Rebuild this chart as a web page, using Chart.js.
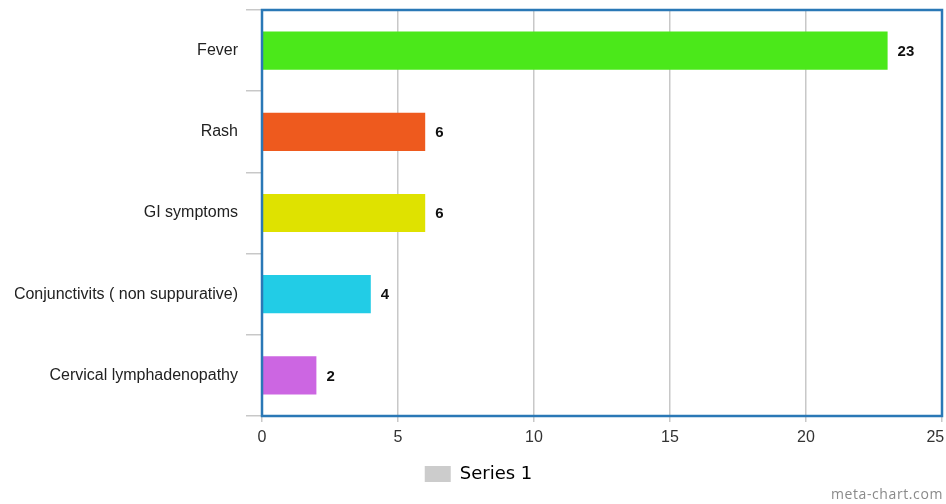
<!DOCTYPE html>
<html>
<head>
<meta charset="utf-8">
<script src="https://cdn.jsdelivr.net/npm/chart.js@4/dist/chart.umd.min.js"></script>
<style>
  html, body { margin: 0; padding: 0; background: #fff; }
  #wrap { position: relative; width: 946px; height: 504px; }
  #credit {
    position: absolute; right: 3px; bottom: 1px;
    font: 14px "Open Sans", "DejaVu Sans", sans-serif;
    letter-spacing: 0.6px; color: #8a8a8a;
  }
</style>
</head>
<body>
<div id="wrap">
  <canvas id="chart" width="946" height="504"></canvas>
  <div id="credit">meta-chart.com</div>
</div>
<script>
const categories = [
  "Fever",
  "Rash",
  "GI symptoms",
  "Conjunctivits ( non suppurative)",
  "Cervical lymphadenopathy"
];
const seriesName = "Series 1";
const values = [23, 6, 6, 4, 2];
const barColors = ["#4be81a", "#ee5a1e", "#dfe200", "#22cce6", "#cc66e2"];
const xTicks = [0, 5, 10, 15, 20, 25];

// value text to the right of each bar
const valueLabels = {
  id: "valueLabels",
  afterDatasetsDraw(chart) {
    const ctx = chart.ctx;
    const meta = chart.getDatasetMeta(0);
    ctx.save();
    ctx.font = "bold 15px 'Liberation Sans', Arial, sans-serif";
    ctx.fillStyle = "#111";
    ctx.textAlign = "left";
    ctx.textBaseline = "middle";
    meta.data.forEach((bar, i) => {
      ctx.fillText(String(values[i]), bar.x + 10, bar.y + 1);
    });
    ctx.restore();
  }
};

// blue frame around the plotting area
const plotFrame = {
  id: "plotFrame",
  afterDraw(chart) {
    const a = chart.chartArea;
    const ctx = chart.ctx;
    ctx.save();
    ctx.strokeStyle = "#2a78b6";
    ctx.lineWidth = 2.5;
    ctx.strokeRect(a.left, a.top, a.right - a.left, a.bottom - a.top);
    ctx.restore();
  }
};

const lastTick = xTicks[xTicks.length - 1];

new Chart(document.getElementById("chart"), {
  type: "bar",
  data: {
    labels: categories,
    datasets: [{
      label: seriesName,
      data: values,
      backgroundColor: barColors,
      borderWidth: 0,
      barPercentage: 0.47,
      categoryPercentage: 1.0
    }]
  },
  options: {
    indexAxis: "y",
    responsive: false,
    animation: false,
    layout: { padding: { left: 15, top: 10, right: 4, bottom: 11 } },
    scales: {
      x: {
        min: 0,
        max: lastTick,
        afterBuildTicks(axis) { axis.ticks = xTicks.map(v => ({ value: v })); },
        grid: { color: "#c8c8c8", lineWidth: 1.5, tickLength: 6, drawTicks: true },
        border: { display: false },
        ticks: {
          color: "#333",
          font: { family: "'Liberation Sans', Arial, sans-serif", size: 16 },
          padding: 6,
          maxRotation: 0,
          // keep the last label inside the canvas edge
          callback: (v) => v === lastTick ? v + "\u00a0\u00a0\u00a0" : String(v)
        },
        afterFit(axis) { axis.height = 41; axis.paddingRight = 0; axis.paddingLeft = 0; }
      },
      y: {
        grid: { color: "#c8c8c8", lineWidth: 1.5, drawOnChartArea: false, tickLength: 16, offset: true },
        border: { display: false },
        ticks: {
          color: "#222",
          font: { family: "'Liberation Sans', Arial, sans-serif", size: 16 },
          padding: 8
        },
        afterFit(axis) { axis.width = 247; axis.paddingTop = 0; axis.paddingBottom = 0; }
      }
    },
    plugins: {
      legend: {
        position: "bottom",
        labels: {
          boxWidth: 26,
          boxHeight: 16,
          padding: 8,
          color: "#555",
          font: { family: "'DejaVu Sans', sans-serif", size: 18 },
          generateLabels() {
            return [{ text: seriesName, fillStyle: "#cccccc", strokeStyle: "#cccccc", lineWidth: 0, datasetIndex: 0 }];
          }
        }
      },
      tooltip: { enabled: false }
    }
  },
  plugins: [valueLabels, plotFrame]
});
</script>
</body>
</html>
